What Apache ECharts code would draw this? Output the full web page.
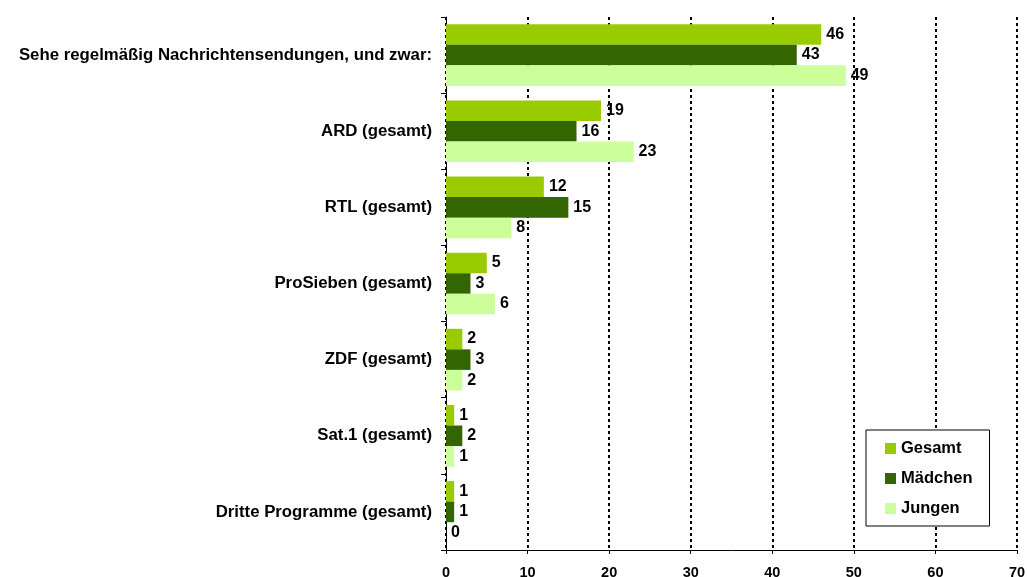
<!DOCTYPE html>
<html>
<head>
<meta charset="utf-8">
<script src="https://cdn.jsdelivr.net/npm/echarts@6/dist/echarts.min.js"></script>
<style>
  html, body { margin: 0; padding: 0; background: #fff; }
  #chart { width: 1027px; height: 577px; }
</style>
</head>
<body>
<div id="chart"></div>
<script>
// Kategorien (von oben nach unten)
const categories = [
    'Sehe regelmäßig Nachrichtensendungen, und zwar:',
    'ARD (gesamt)',
    'RTL (gesamt)',
    'ProSieben (gesamt)',
    'ZDF (gesamt)',
    'Sat.1 (gesamt)',
    'Dritte Programme (gesamt)'
];

// Werte in Prozent
const gesamt = [46, 19, 12, 5, 2, 1, 1];
const maedchen = [43, 16, 15, 3, 3, 2, 1];
const jungen = [49, 23, 8, 6, 2, 1, 0];

const xTicks = { min: 0, max: 70, interval: 10 };

const font = 'Arial, "Liberation Sans", sans-serif';

function barSeries(name, data, color) {
    return {
        name: name,
        type: 'bar',
        data: data,
        barGap: '0%',
        barCategoryGap: '19%',
        itemStyle: { color: color },
        label: {
            show: true,
            position: 'right',
            distance: 5,
            color: '#000',
            fontWeight: 'bold',
            fontSize: 16,
            fontFamily: font
        }
    };
}

const chart = echarts.init(document.getElementById('chart'));

chart.setOption({
    animation: false,
    grid: {
        left: 446, right: 10, top: 17, bottom: 27,
        containLabel: false,
        outerBoundsMode: 'none'
    },
    legend: {
        orient: 'vertical',
        left: 866,
        top: 430,
        padding: [10, 17, 9, 19],
        itemGap: 13,
        itemWidth: 11,
        itemHeight: 11,
        borderColor: '#000',
        borderWidth: 1,
        backgroundColor: '#fff',
        icon: 'rect',
        textStyle: { fontSize: 16.5, fontWeight: 'bold', color: '#000', fontFamily: font },
        data: ['Gesamt', 'Mädchen', 'Jungen']
    },
    xAxis: {
        type: 'value',
        min: xTicks.min,
        max: xTicks.max,
        interval: xTicks.interval,
        axisLine: { show: true, lineStyle: { color: '#000', width: 1 } },
        axisTick: { show: true, length: 4, lineStyle: { color: '#000' } },
        axisLabel: { color: '#000', fontWeight: 'bold', fontSize: 14.5, fontFamily: font, margin: 15 },
        splitLine: { show: true, lineStyle: { color: '#000', width: 2, type: [3, 3] } }
    },
    yAxis: {
        type: 'category',
        data: categories,
        inverse: true,
        axisLine: { show: true, lineStyle: { color: '#000', width: 1 } },
        axisTick: { show: true, length: 5, lineStyle: { color: '#000' } },
        axisLabel: { color: '#000', fontWeight: 'bold', fontSize: 16.8, fontFamily: font, margin: 14 },
        splitLine: { show: false }
    },
    series: [
        barSeries('Gesamt', gesamt, '#99CC00'),
        barSeries('Mädchen', maedchen, '#336600'),
        barSeries('Jungen', jungen, '#CCFF99')
    ]
});
</script>
</body>
</html>
